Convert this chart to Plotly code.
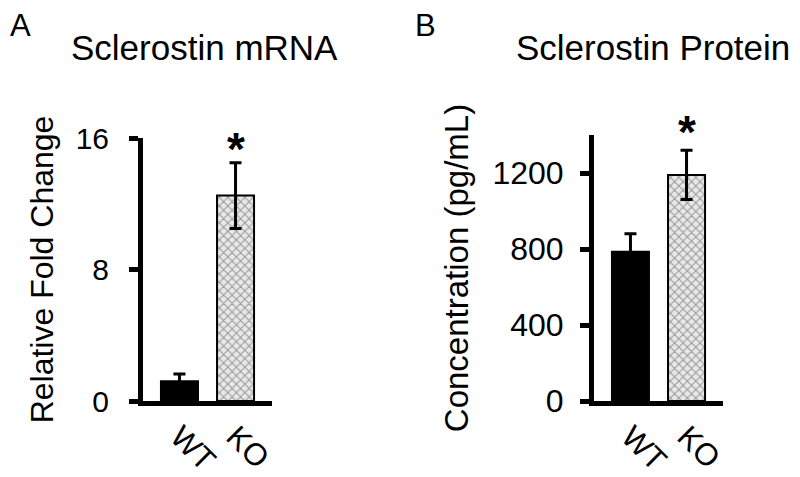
import plotly.graph_objects as go
from plotly.subplots import make_subplots

# values
genotypes = ["WT", "KO"]
mrna_mean = [1.2, 12.5]
mrna_sem = [0.45, 2.0]
protein_mean = [785, 1190]
protein_sem = [95, 130]

FONT = "Arial, Liberation Sans, sans-serif"
bar_colors = ["black", "#e8e8e8"]
pattern_shapes = ["", "x"]

fig = make_subplots(rows=1, cols=2)


def add_panel(col, means, sems, star_shift):
    fig.add_trace(
        go.Bar(
            x=genotypes, y=means, width=0.66,
            marker=dict(
                color=bar_colors,
                line=dict(color="black", width=2),
                pattern=dict(shape=pattern_shapes, fgcolor="#848484",
                             bgcolor="#e9e9e9", size=6, solidity=0.3),
            ),
            error_y=dict(type="data", array=sems, visible=True,
                         color="black", thickness=3, width=6),
            showlegend=False,
        ),
        row=1, col=col,
    )
    # significance star above KO
    fig.add_annotation(
        x=genotypes[1], y=means[1] + sems[1], text="<b>*</b>",
        showarrow=False, yanchor="bottom", yshift=star_shift,
        font=dict(size=46, color="black", family=FONT),
        xref=f"x{col if col > 1 else ''}", yref=f"y{col if col > 1 else ''}",
    )


add_panel(1, mrna_mean, mrna_sem, -14)
add_panel(2, protein_mean, protein_sem, -10)

axis_common = dict(showgrid=False, zeroline=False, showline=True,
                   linecolor="black", linewidth=5, automargin=False)

fig.update_xaxes(axis_common, range=[-0.65, 1.65], ticks="", tickangle=45,
                 tickfont=dict(size=31, color="black", family=FONT))
fig.update_xaxes(domain=[143 / 800, 272 / 800], row=1, col=1)
fig.update_xaxes(domain=[594 / 800, 723 / 800], row=1, col=2)

fig.update_yaxes(axis_common, ticks="outside", ticklen=9, tickwidth=5,
                 tickcolor="black")
fig.update_yaxes(domain=[76 / 477, 339 / 477], range=[0, 16], tickvals=[0, 8, 16],
                 ticklabelstandoff=14,
                 tickfont=dict(size=30, color="black", family=FONT),
                 title=dict(text="Relative Fold Change", standoff=14,
                            font=dict(size=32, color="black", family=FONT)),
                 row=1, col=1)
fig.update_yaxes(domain=[76 / 477, 342 / 477], range=[0, 1400],
                 tickvals=[0, 400, 800, 1200], ticklabelstandoff=10,
                 tickfont=dict(size=32, color="black", family=FONT),
                 title=dict(text="Concentration (pg/mL)", standoff=15,
                            font=dict(size=33, color="black", family=FONT)),
                 row=1, col=2)

# panel titles and letters
for txt, x, y, size in [("Sclerostin mRNA", 205, 47, 35),
                        ("Sclerostin Protein", 653, 47, 35),
                        ("A", 20, 26, 31), ("B", 425, 25, 31)]:
    fig.add_annotation(x=x / 800, y=1 - y / 477, xref="paper", yref="paper",
                       text=txt, showarrow=False, xanchor="center", yanchor="middle",
                       font=dict(size=size, color="black", family=FONT))

fig.update_layout(
    width=800, height=477,
    margin=dict(l=0, r=0, t=0, b=0, autoexpand=False),
    plot_bgcolor="white", paper_bgcolor="white",
    font=dict(family=FONT, color="black"),
    showlegend=False,
)

# the page body has a default margin, drop it so the figure fills the window
fig.write_html("out.html", config={"displayModeBar": False},
               post_script="document.body.style.margin='0';")
